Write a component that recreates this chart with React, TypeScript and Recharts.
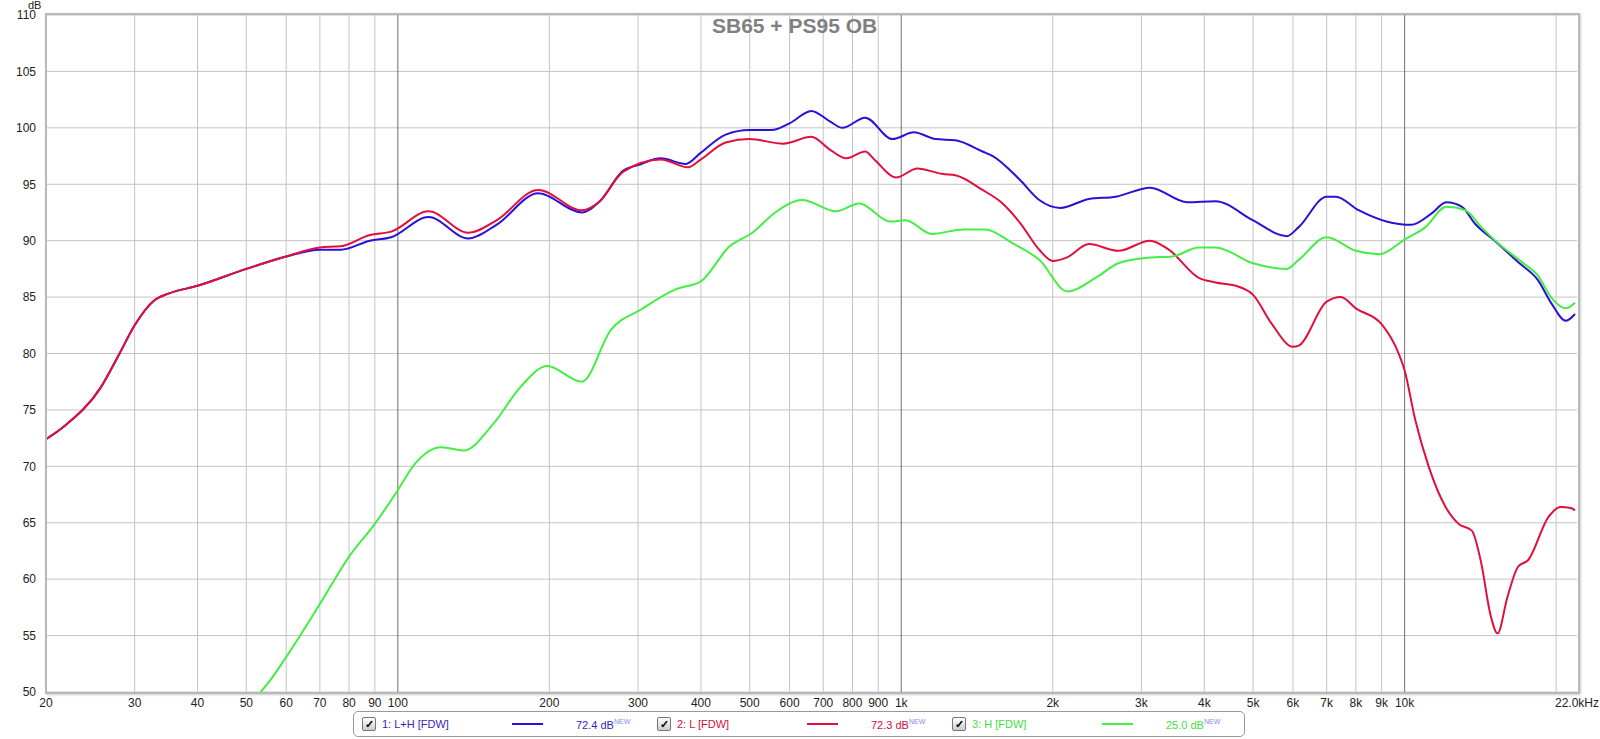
import { LineChart, Line, XAxis, YAxis, CartesianGrid, ReferenceLine } from "recharts";

const X_TICKS = [20, 30, 40, 50, 60, 70, 80, 90, 100, 200, 300, 400, 500, 600, 700, 800, 900, 1000, 2000, 3000, 4000, 5000, 6000, 7000, 8000, 9000, 10000, 22000];
const X_LABELS = ["20", "30", "40", "50", "60", "70", "80", "90", "100", "200", "300", "400", "500", "600", "700", "800", "900", "1k", "2k", "3k", "4k", "5k", "6k", "7k", "8k", "9k", "10k", "22.0kHz"];
const GRID_FREQS = [30, 40, 50, 60, 70, 80, 90, 200, 300, 400, 500, 600, 700, 800, 900, 2000, 3000, 4000, 5000, 6000, 7000, 8000, 9000, 20000];
const DECADES = [100, 1000, 10000];
const DB_TICKS = [50, 55, 60, 65, 70, 75, 80, 85, 90, 95, 100, 105, 110];

// 1: L+H [FDW]
const lhFreq = [20, 21.8, 25.7, 28, 30, 32.8, 35, 40, 50, 60, 70, 77, 88, 97, 115, 138, 157, 190, 232, 252, 280, 300, 333, 373, 400, 448, 500, 552, 600, 663, 720, 764, 848, 960, 1060, 1170, 1280, 1450, 1520, 1720, 1880, 2070, 2360, 2670, 3120, 3700, 4210, 5000, 5830, 6160, 7000, 7300, 8100, 9200, 10300, 11300, 12100, 13000, 13800, 15100, 16800, 18400, 19600, 20900, 21800];
const lhDb = [72.4, 73.6, 77.0, 80.0, 82.5, 84.7, 85.3, 86.0, 87.5, 88.6, 89.2, 89.2, 90.0, 90.3, 92.1, 90.2, 91.4, 94.2, 92.5, 93.5, 96.2, 96.7, 97.3, 96.8, 97.8, 99.4, 99.8, 99.8, 100.4, 101.5, 100.6, 100.0, 100.9, 99.0, 99.6, 99.0, 98.9, 97.9, 97.5, 95.4, 93.6, 92.9, 93.7, 93.9, 94.7, 93.4, 93.5, 91.8, 90.4, 91.2, 93.9, 93.9, 92.7, 91.7, 91.4, 92.4, 93.4, 93.0, 91.5, 90.0, 88.1, 86.5, 84.4, 82.9, 83.5];

// 2: L [FDW]
const lFreq = [20, 21.8, 25.7, 28, 30, 32.8, 35, 40, 50, 60, 70, 77, 88, 97, 115, 138, 157, 190, 232, 252, 280, 333, 377, 400, 448, 500, 583, 663, 720, 778, 848, 884, 977, 1076, 1210, 1280, 1450, 1580, 1720, 1880, 2000, 2130, 2360, 2700, 3120, 3400, 3900, 4210, 4620, 5000, 5450, 6000, 6160, 7000, 7470, 8000, 9000, 9730, 10000, 10500, 11160, 12060, 12800, 13600, 14200, 14800, 15300, 16000, 16800, 17600, 19300, 20400, 21400, 21800];
const lDb = [72.4, 73.6, 77.0, 80.0, 82.5, 84.7, 85.3, 86.0, 87.5, 88.6, 89.4, 89.5, 90.5, 90.8, 92.6, 90.7, 91.8, 94.5, 92.7, 93.5, 96.1, 97.2, 96.5, 97.2, 98.7, 99.0, 98.6, 99.2, 98.1, 97.3, 97.9, 97.2, 95.6, 96.4, 95.9, 95.8, 94.5, 93.4, 91.6, 89.2, 88.2, 88.5, 89.7, 89.1, 90.0, 89.2, 86.7, 86.3, 86.0, 85.2, 82.6, 80.6, 80.7, 84.6, 85.0, 84.0, 82.6, 80.0, 78.5, 74.1, 70.0, 66.4, 64.9, 64.3, 61.4, 56.9, 55.2, 58.4, 61.1, 61.7, 65.5, 66.4, 66.3, 66.1];

// 3: H [FDW]
const hFreq = [53.4, 55.7, 60, 70, 80, 90, 100, 108, 122, 135, 155, 175, 198, 232, 265, 304, 357, 400, 456, 506, 562, 636, 742, 825, 951, 1020, 1150, 1330, 1470, 1660, 1880, 2140, 2450, 2700, 3120, 3460, 3900, 4210, 5000, 5830, 6160, 7000, 8000, 8900, 10000, 11000, 12100, 13200, 14200, 15400, 17100, 18400, 19600, 20900, 21800];
const hDb = [50.0, 51.0, 53.1, 57.8, 62.0, 64.9, 67.9, 70.2, 71.7, 71.4, 73.8, 77.0, 78.9, 77.5, 82.1, 83.9, 85.7, 86.4, 89.5, 90.7, 92.5, 93.6, 92.6, 93.3, 91.7, 91.8, 90.6, 91.0, 91.0, 89.8, 88.3, 85.5, 86.8, 88.0, 88.5, 88.6, 89.4, 89.4, 88.0, 87.5, 88.3, 90.3, 89.1, 88.8, 90.1, 91.2, 93.0, 92.7, 91.2, 89.7, 88.1, 86.9, 84.9, 84.0, 84.5];

const SERIES = [
  { name: "1: L+H [FDW]", level: "72.4 dB", color: "#2a10d8", text: "#3a1cc0", data: lhFreq.map((f, i) => ({ f, db: lhDb[i] })) },
  { name: "2: L [FDW]", level: "72.3 dB", color: "#e0103c", text: "#d0103a", data: lFreq.map((f, i) => ({ f, db: lDb[i] })) },
  { name: "3: H [FDW]", level: "25.0 dB", color: "#44ee44", text: "#44dd44", data: hFreq.map((f, i) => ({ f, db: hDb[i] })) },
];

const FONT = "'Liberation Sans', Arial, sans-serif";

function LegendItem({ s, left }: { s: (typeof SERIES)[number]; left: number }) {
  return (
    <div style={{ position: "absolute", left, top: 0, height: 24, display: "flex", alignItems: "center", fontSize: 11, color: s.text }}>
      <div
        style={{
          width: 12,
          height: 12,
          border: "1px solid #777",
          borderRadius: 2,
          background: "linear-gradient(#fff, #ccc)",
          fontSize: 11,
          lineHeight: "12px",
          textAlign: "center",
          color: "#000",
          fontWeight: "bold",
        }}
      >
        ✓
      </div>
      <span style={{ marginLeft: 6, width: 130 }}>{s.name}</span>
      <div style={{ width: 31, height: 2, background: s.color, marginRight: 33 }} />
      <span>
        {s.level}
        <sup style={{ fontSize: 7, color: "#8888ee" }}>NEW</sup>
      </span>
    </div>
  );
}

export default function App() {
  return (
    <div style={{ position: "absolute", left: 0, top: 0, width: 1600, height: 739, background: "#fff", fontFamily: FONT }}>
      <LineChart width={1600} height={739} margin={{ top: 15, right: 23, left: 0, bottom: 27 }}>
        <CartesianGrid stroke="#c4c4c4" vertical={false} horizontalValues={DB_TICKS} />
        {GRID_FREQS.map((f) => (
          <ReferenceLine key={f} x={f} stroke="#c4c4c4" strokeWidth={1} />
        ))}
        {DECADES.map((f) => (
          <ReferenceLine key={f} x={f} stroke="#707070" strokeWidth={1} />
        ))}
        <XAxis
          dataKey="f"
          type="number"
          scale="log"
          domain={[20, 22000]}
          ticks={X_TICKS}
          allowDataOverflow
          interval={0}
          tickFormatter={(v: number) => X_LABELS[X_TICKS.indexOf(v)] ?? ""}
          tick={{ fontSize: 12, fill: "#222", fontFamily: FONT }}
          tickLine={false}
          axisLine={false}
          height={20}
          tickMargin={0}
        />
        <YAxis
          type="number"
          domain={[50, 110]}
          ticks={DB_TICKS}
          allowDataOverflow
          interval={0}
          tick={{ fontSize: 12, fill: "#222", fontFamily: FONT }}
          tickLine={false}
          axisLine={false}
          width={46}
          tickMargin={4}
        />
        {SERIES.map((s) => (
          <Line
            key={s.name}
            data={s.data}
            dataKey="db"
            type="monotone"
            stroke={s.color}
            strokeWidth={2}
            dot={false}
            isAnimationActive={false}
          />
        ))}
      </LineChart>
      <div
        style={{
          position: "absolute",
          left: 45,
          top: 13,
          width: 1531,
          height: 677,
          border: "2px solid #b8b8b8",
          boxShadow: "1px 1px 2px #ccc",
          pointerEvents: "none",
        }}
      />
      <div style={{ position: "absolute", left: 28, top: 0, fontSize: 11, lineHeight: "10px", color: "#222" }}>dB</div>
      <div
        style={{
          position: "absolute",
          left: 712,
          top: 14,
          fontSize: 21,
          fontWeight: "bold",
          color: "#808080",
          whiteSpace: "nowrap",
        }}
      >
        SB65 + PS95 OB
      </div>
      <div
        style={{
          position: "absolute",
          left: 353,
          top: 711,
          width: 890,
          height: 24,
          border: "1px solid #999",
          borderRadius: 5,
          background: "#fff",
        }}
      >
        {SERIES.map((s, i) => (
          <LegendItem key={s.name} s={s} left={8 + i * 295} />
        ))}
      </div>
    </div>
  );
}
